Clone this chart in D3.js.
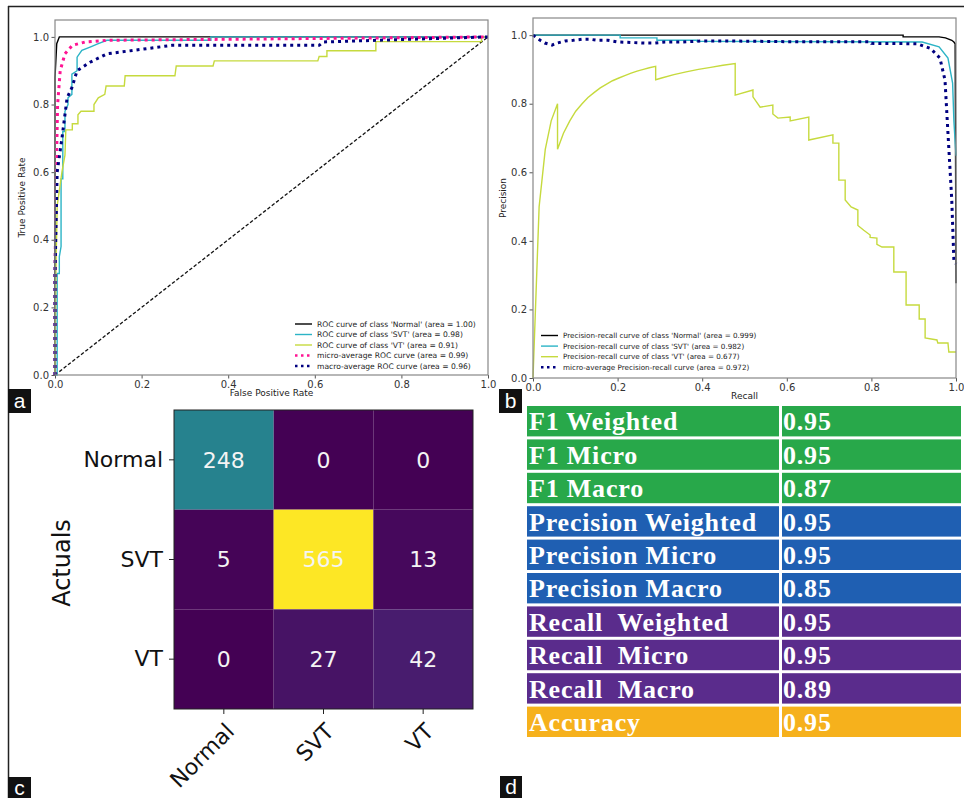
<!DOCTYPE html>
<html>
<head>
<meta charset="utf-8">
<script src="https://cdn.jsdelivr.net/npm/d3@7"></script>
<style>
body { margin: 0; background: #fff; }
svg { display: block; font-family: 'DejaVu Sans', sans-serif; }
</style>
</head>
<body>
<svg id="figure" width="964" height="798"></svg>
<script>
// ---- data ----
const unitTicks = [0, 0.2, 0.4, 0.6, 0.8, 1.0];

// panel a: ROC curves, [fpr, tpr]
const rocNormal = [[0,0],[0,0.88],[0.004,0.98],[0.01,1],[1,1]];
const rocSVT = [[0,0],[0.005,0],[0.005,0.3],[0.01,0.3],[0.01,0.35],[0.014,0.38],[0.014,0.58],[0.018,0.58],
    [0.018,0.72],[0.023,0.72],[0.023,0.78],[0.03,0.8],[0.03,0.82],[0.039,0.83],[0.039,0.89],[0.051,0.9],
    [0.051,0.94],[0.062,0.96],[0.081,0.97],[0.1,0.98],[0.12,0.99],[0.36,0.99],[0.36,1],[1,1]];
const rocVT = [[0,0],[0.002,0.3],[0.005,0.5],[0.016,0.6],[0.023,0.65],[0.025,0.725],[0.04,0.725],[0.04,0.743],
    [0.053,0.743],[0.053,0.77],[0.06,0.78],[0.09,0.78],[0.09,0.8],[0.1,0.82],[0.115,0.83],[0.118,0.855],
    [0.16,0.855],[0.162,0.885],[0.277,0.885],[0.28,0.914],[0.365,0.914],[0.368,0.929],[0.607,0.929],
    [0.61,0.942],[0.628,0.942],[0.628,0.959],[0.741,0.959],[0.741,0.986],[0.985,0.986],[0.985,1],[1,1]];
const rocMicro = [[0,0],[0,0.3],[0.003,0.6],[0.006,0.8],[0.012,0.9],[0.023,0.95],[0.04,0.975],[0.07,0.985],
    [0.12,0.99],[0.4,0.993],[0.75,0.997],[1,1]];
const rocMacro = [[0,0],[0,0.3],[0.005,0.6],[0.016,0.7],[0.028,0.82],[0.039,0.85],[0.051,0.9],[0.081,0.925],
    [0.12,0.95],[0.18,0.96],[0.27,0.975],[0.61,0.975],[0.62,0.985],[0.745,0.99],[1,1]];
const rocLabels = ["ROC curve of class 'Normal' (area = 1.00)", "ROC curve of class 'SVT' (area = 0.98)",
    "ROC curve of class 'VT' (area = 0.91)", "micro-average ROC curve (area = 0.99)",
    "macro-average ROC curve (area = 0.96)"];

// panel b: precision-recall curves, [recall, precision]
const prNormal = [[0,1],[0.875,1],[0.875,0.995],[0.96,0.995],[0.975,0.992],[0.99,0.985],[0.995,0.98],
    [0.998,0.975],[1,0.276]];
const prSVT = [[0,1],[0.206,1],[0.206,0.992],[0.293,0.992],[0.293,0.985],[0.388,0.985],[0.388,0.982],
    [0.92,0.98],[0.96,0.966],[0.981,0.933],[0.992,0.86],[0.995,0.75],[1,0.648]];
const prVT = [[0,0],[0.0145,0.5],[0.029,0.667],[0.043,0.75],[0.058,0.8],[0.058,0.667],[0.072,0.714],
    [0.087,0.75],[0.101,0.778],[0.116,0.8],[0.13,0.818],[0.145,0.833],[0.159,0.846],[0.174,0.857],
    [0.188,0.867],[0.203,0.875],[0.217,0.882],[0.232,0.889],[0.246,0.895],[0.261,0.9],[0.275,0.905],
    [0.29,0.909],[0.29,0.87],[0.304,0.875],[0.333,0.885],[0.362,0.893],[0.391,0.9],[0.42,0.906],
    [0.449,0.912],[0.478,0.917],[0.478,0.825],[0.52,0.84],[0.52,0.82],[0.537,0.79],[0.567,0.796],
    [0.567,0.77],[0.579,0.758],[0.608,0.761],[0.608,0.75],[0.652,0.761],[0.652,0.694],[0.709,0.709],
    [0.709,0.685],[0.723,0.685],[0.723,0.577],[0.738,0.577],[0.738,0.519],[0.752,0.499],[0.768,0.49],
    [0.768,0.445],[0.782,0.431],[0.797,0.417],[0.797,0.41],[0.813,0.408],[0.813,0.39],[0.825,0.382],
    [0.853,0.382],[0.853,0.309],[0.882,0.309],[0.882,0.213],[0.913,0.213],[0.913,0.172],[0.927,0.172],
    [0.927,0.117],[0.955,0.111],[0.957,0.102],[0.981,0.102],[0.983,0.076],[1,0.076]];
const prMicro = [[0,1],[0.017,0.985],[0.028,0.977],[0.045,0.971],[0.057,0.977],[0.076,0.983],[0.095,0.985],
    [0.116,0.988],[0.135,0.988],[0.151,0.985],[0.177,0.985],[0.2,0.98],[0.265,0.977],[0.288,0.977],
    [0.312,0.98],[0.352,0.98],[0.399,0.983],[0.46,0.983],[0.6,0.981],[0.797,0.981],[0.8,0.976],
    [0.908,0.975],[0.94,0.961],[0.962,0.933],[0.974,0.869],[0.981,0.714],[0.99,0.519],[0.995,0.344],[1,0.333]];
const prLabels = ["Precision-recall curve of class 'Normal' (area = 0.999)",
    "Precision-recall curve of class 'SVT' (area = 0.982)",
    "Precision-recall curve of class 'VT' (area = 0.677)",
    "micro-average Precision-recall curve (area = 0.972)"];

// panel c: confusion matrix
const cmClasses = ['Normal', 'SVT', 'VT'];
const cmValues = [[248, 0, 0], [5, 565, 13], [0, 27, 42]];

// panel d: metrics table
const metricNames = ['F1 Weighted', 'F1 Micro', 'F1 Macro', 'Precision Weighted', 'Precision Micro',
    'Precision Macro', 'Recall\u00a0 Weighted', 'Recall\u00a0 Micro', 'Recall\u00a0 Macro', 'Accuracy'];
const metricValues = ['0.95', '0.95', '0.87', '0.95', '0.95', '0.85', '0.95', '0.95', '0.89', '0.95'];
const metricGroups = ['f1', 'f1', 'f1', 'precision', 'precision', 'precision', 'recall', 'recall', 'recall', 'accuracy'];

// ---- drawing ----
const Fig = {};

Fig.style = {
    black: '#000', cyan: '#2cb4c6', lime: '#c6da3e', pink: '#ff1493', navy: '#000080',
    group: { f1: '#28a84a', precision: '#1f5fb2', recall: '#5a2c8c', accuracy: '#f6b11c' }
};

Fig.init = function() {
    Fig.svg = d3.select('#figure');
    Fig.drawFrame();
    Fig.drawRoc();
    Fig.drawPr();
    Fig.drawMatrix();
    Fig.drawTable();
    Fig.drawTags();
};

Fig.drawFrame = function() {
    Fig.svg.append('line').attr('x1', 8).attr('x2', 964).attr('y1', 6.5).attr('y2', 6.5)
        .attr('stroke', '#222').attr('stroke-width', 1.5);
    Fig.svg.append('line').attr('x1', 8.5).attr('x2', 8.5).attr('y1', 6).attr('y2', 798)
        .attr('stroke', '#222').attr('stroke-width', 1.5);
};

// shared axes frame for the two line charts
Fig.plotFrame = function(g, x, y, xLabel, yLabel, yLabelX) {
    const fmt = d3.format('.1f');
    const [x0, x1] = x.range();
    const [y0, y1] = y.range();

    const xa = g.append('g').attr('transform', 'translate(0,' + y0 + ')')
        .call(d3.axisBottom(x).tickValues(unitTicks).tickFormat(fmt).tickSize(3.5).tickPadding(2.5));
    const ya = g.append('g').attr('transform', 'translate(' + x0 + ',0)')
        .call(d3.axisLeft(y).tickValues(unitTicks).tickFormat(fmt).tickSize(3.5).tickPadding(2.5));
    [xa, ya].forEach(function(a) {
        a.select('.domain').remove();
        a.selectAll('line').attr('stroke', '#555');
        a.selectAll('text').attr('fill', '#333').style('font-size', '10px')
            .style('font-family', 'DejaVu Sans, sans-serif');
    });

    g.append('rect').attr('x', x0).attr('y', y1).attr('width', x1 - x0).attr('height', y0 - y1)
        .attr('fill', 'none').attr('stroke', '#888').attr('stroke-width', 1.2);

    g.append('text').attr('x', (x0 + x1) / 2).attr('y', y0 + 21).attr('text-anchor', 'middle')
        .style('font-size', '9px').attr('fill', '#222').text(xLabel);
    g.append('text').attr('transform', 'translate(' + yLabelX + ',' + (y0 + y1) / 2 + ') rotate(-90)')
        .attr('text-anchor', 'middle').style('font-size', '9px').attr('fill', '#222').text(yLabel);
};

Fig.drawSeries = function(g, x, y, series) {
    const line = d3.line().x(function(d) { return x(d[0]); }).y(function(d) { return y(d[1]); });
    series.forEach(function(s) {
        g.append('path').datum(s.data).attr('d', line).attr('fill', 'none')
            .attr('stroke', s.color).attr('stroke-width', s.dotted ? 3 : 1.4)
            .attr('stroke-dasharray', s.dotted ? '3,4' : null);
    });
};

Fig.drawLegend = function(g, items, x, y, step, fontSize) {
    items.forEach(function(s, i) {
        const yy = y + i * step;
        g.append('line').attr('x1', x).attr('x2', x + 17).attr('y1', yy).attr('y2', yy)
            .attr('stroke', s.color).attr('stroke-width', s.dotted ? 2.5 : 1.4)
            .attr('stroke-dasharray', s.dotted ? '2.5,3.5' : null);
        g.append('text').attr('x', x + 22).attr('y', yy).attr('dy', '0.35em')
            .style('font-size', fontSize).attr('fill', '#222').text(s.label);
    });
};

Fig.drawRoc = function() {
    const c = Fig.style;
    const g = Fig.svg.append('g');
    const x = d3.scaleLinear().domain([0, 1]).range([55, 488]);
    const y = d3.scaleLinear().domain([0, 1.05]).range([375, 20]);

    g.append('line').attr('x1', x(0)).attr('y1', y(0)).attr('x2', x(1)).attr('y2', y(1))
        .attr('stroke', '#111').attr('stroke-width', 1.3).attr('stroke-dasharray', '3.5,2');

    const series = [
        { data: rocNormal, color: c.black, label: rocLabels[0] },
        { data: rocSVT, color: c.cyan, label: rocLabels[1] },
        { data: rocVT, color: c.lime, label: rocLabels[2] },
        { data: rocMicro, color: c.pink, dotted: true, label: rocLabels[3] },
        { data: rocMacro, color: c.navy, dotted: true, label: rocLabels[4] }
    ];
    Fig.drawSeries(g, x, y, series);
    Fig.plotFrame(g, x, y, 'False Positive Rate', 'True Positive Rate', 25);
    Fig.drawLegend(g, series, 295, 324, 10.5, '7.6px');
};

Fig.drawPr = function() {
    const c = Fig.style;
    const g = Fig.svg.append('g');
    const x = d3.scaleLinear().domain([0, 1]).range([533, 956]);
    const y = d3.scaleLinear().domain([0, 1.05]).range([378, 18]);

    const series = [
        { data: prNormal, color: c.black, label: prLabels[0] },
        { data: prSVT, color: c.cyan, label: prLabels[1] },
        { data: prVT, color: c.lime, label: prLabels[2] },
        { data: prMicro, color: c.navy, dotted: true, label: prLabels[3] }
    ];
    Fig.drawSeries(g, x, y, series);
    Fig.plotFrame(g, x, y, 'Recall', 'Precision', 506);
    Fig.drawLegend(g, series, 541, 335.5, 10.6, '7.2px');
};

Fig.drawMatrix = function() {
    const g = Fig.svg.append('g');
    const x = d3.scaleBand().domain(cmClasses).range([174, 473]);
    const y = d3.scaleBand().domain(cmClasses).range([410, 709]);
    const color = d3.scaleSequential(d3.interpolateViridis).domain([0, d3.max(cmValues.flat())]);

    const cells = [];
    cmValues.forEach(function(row, i) {
        row.forEach(function(v, j) { cells.push({ r: cmClasses[i], c: cmClasses[j], v: v }); });
    });

    g.selectAll('rect.cell').data(cells).enter().append('rect').attr('class', 'cell')
        .attr('x', function(d) { return x(d.c); }).attr('y', function(d) { return y(d.r); })
        .attr('width', x.bandwidth()).attr('height', y.bandwidth())
        .attr('fill', function(d) { return color(d.v); });

    g.selectAll('text.val').data(cells).enter().append('text').attr('class', 'val')
        .attr('x', function(d) { return x(d.c) + x.bandwidth() / 2; })
        .attr('y', function(d) { return y(d.r) + y.bandwidth() / 2; })
        .attr('dy', '0.36em').attr('text-anchor', 'middle').attr('fill', '#f4f4f4')
        .style('font-size', '22px').text(function(d) { return d.v; });

    g.append('rect').attr('x', 174).attr('y', 410).attr('width', 299).attr('height', 299)
        .attr('fill', 'none').attr('stroke', '#222').attr('stroke-width', 1);

    const ya = g.append('g').attr('transform', 'translate(174,0)')
        .call(d3.axisLeft(y).tickSize(5).tickPadding(6));
    const xa = g.append('g').attr('transform', 'translate(0,709)')
        .call(d3.axisBottom(x).tickSize(5).tickPadding(6));
    [xa, ya].forEach(function(a) {
        a.select('.domain').remove();
        a.selectAll('line').attr('stroke', '#222');
        a.selectAll('text').attr('fill', '#111').style('font-size', '22px')
            .style('font-family', 'DejaVu Sans, sans-serif');
    });
    xa.selectAll('text').attr('text-anchor', 'end').attr('dy', null)
        .attr('transform', 'translate(4,16) rotate(-45)');

    g.append('text').attr('transform', 'translate(70,563) rotate(-90)').attr('text-anchor', 'middle')
        .style('font-size', '24px').attr('fill', '#111').text('Actuals');
};

Fig.drawTable = function() {
    const g = Fig.svg.append('g').style('font-family', 'Liberation Serif, serif').style('font-weight', 'bold');
    const y = d3.scaleBand().domain(d3.range(metricNames.length)).range([406, 737]).paddingInner(0.09);
    const rows = metricNames.map(function(n, i) { return { name: n, value: metricValues[i], group: metricGroups[i] }; });

    const row = g.selectAll('g.row').data(rows).enter().append('g').attr('class', 'row')
        .attr('transform', function(d, i) { return 'translate(0,' + y(i) + ')'; });
    row.append('rect').attr('x', 527).attr('width', 252).attr('height', y.bandwidth())
        .attr('fill', function(d) { return Fig.style.group[d.group]; });
    row.append('rect').attr('x', 782).attr('width', 179).attr('height', y.bandwidth())
        .attr('fill', function(d) { return Fig.style.group[d.group]; });
    row.append('text').attr('x', 529).attr('y', y.bandwidth() - 6).attr('fill', '#fff')
        .style('font-size', '26px').style('letter-spacing', '0.8px').text(function(d) { return d.name; });
    row.append('text').attr('x', 783).attr('y', y.bandwidth() - 6).attr('fill', '#fff')
        .style('font-size', '26px').style('letter-spacing', '0.8px').text(function(d) { return d.value; });
};

Fig.drawTags = function() {
    const tags = [['a', 8, 389, 23, 24], ['b', 499, 389, 23, 24], ['c', 8, 777, 23, 21], ['d', 500, 776, 22, 22]];
    tags.forEach(function(t) {
        Fig.svg.append('rect').attr('x', t[1]).attr('y', t[2]).attr('width', t[3]).attr('height', t[4])
            .attr('fill', '#111');
        Fig.svg.append('text').attr('x', t[1] + t[3] / 2).attr('y', t[2] + t[4] / 2).attr('dy', '0.35em')
            .attr('text-anchor', 'middle').attr('fill', '#fff')
            .style('font-family', 'Liberation Sans, sans-serif').style('font-size', '21px').text(t[0]);
    });
};

document.addEventListener('DOMContentLoaded', Fig.init);
</script>
</body>
</html>
